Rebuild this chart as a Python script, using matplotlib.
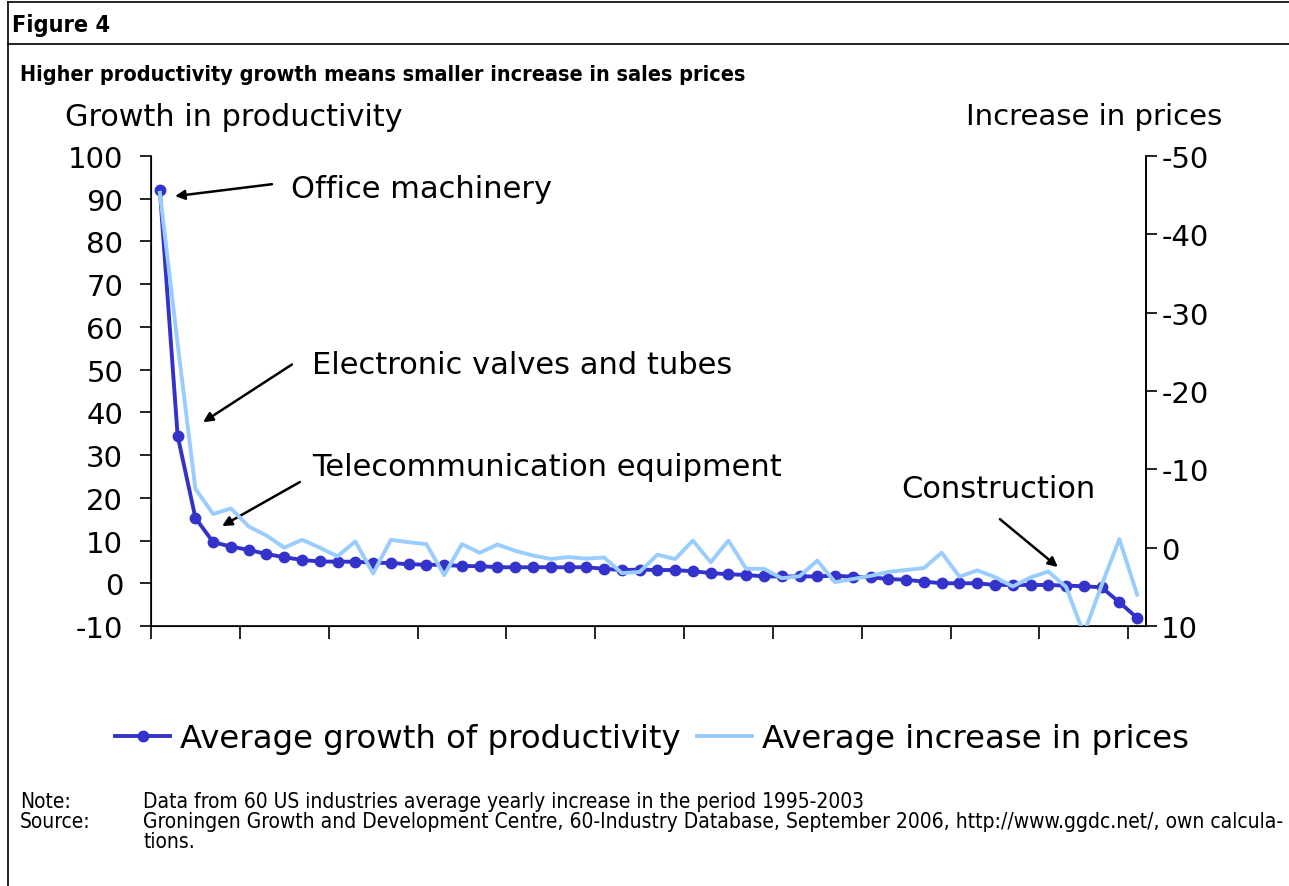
import matplotlib
matplotlib.use("Agg")
import matplotlib.pyplot as plt
import numpy as np

# Data: 56 industries sorted by productivity growth
productivity = [92.0, 34.5, 15.3, 9.6, 8.6, 7.8, 6.85, 6.1, 5.45, 5.1,
                5.05, 5.05, 4.8, 4.75, 4.45, 4.35, 4.3, 4.05, 4.0, 3.75,
                3.75, 3.75, 3.75, 3.75, 3.75, 3.4, 3.1, 3.2, 3.1, 3.1,
                2.8, 2.4, 2.1, 1.95, 1.6, 1.6, 1.6, 1.6, 1.8, 1.5,
                1.4, 1.0, 0.8, 0.4, 0.0, 0.0, 0.0, -0.4, -0.4, -0.4,
                -0.4, -0.55, -0.7, -0.95, -4.45, -8.1]
prices = [-45.3, -26.0, -7.5, -4.3, -5.0, -2.7, -1.55, 0.0, -1.0, 0.0,
          1.1, -0.8, 3.3, -1.0, -0.7, -0.45, 3.5, -0.45, 0.65, -0.4,
          0.4, 1.0, 1.45, 1.2, 1.4, 1.25, 3.25, 3.1, 0.9, 1.45,
          -0.9, 1.85, -0.9, 2.7, 2.7, 3.9, 3.65, 1.65, 4.4, 4.0,
          3.6, 3.1, 2.85, 2.6, 0.65, 3.7, 2.9, 3.75, 4.95, 3.8,
          3.05, 5.0, 11.0, 4.8, -1.1, 6.0]

left_ticks = list(range(-10, 101, 10))
right_ticks = list(range(-50, 11, 10))

dark = "#3333CC"
light = "#99CCFF"

plt.rcParams["font.family"] = ["DejaVu Sans"]
plt.rcParams["axes.unicode_minus"] = False

W, H = 1289, 887
fig = plt.figure(figsize=(W / 100, H / 100), dpi=100)
ax = fig.add_axes([151 / W, 1 - 627 / H, (1146 - 151) / W, (627 - 157) / H])

x = np.arange(len(productivity))
ln1, = ax.plot(x, productivity, color=dark, lw=2.8, marker="o", ms=7.5,
               label="Average growth of productivity", zorder=3)
ax.set_xlim(-0.5, len(productivity) - 0.5)
ax.set_ylim(-10, 100)
ax.set_yticks(left_ticks)
ax.set_xticks(np.arange(-0.5, len(productivity) - 0.5, 5))
ax.set_xticklabels([])
ax.tick_params(axis="y", labelsize=21, length=8, width=1.2, direction="out", pad=12)
ax.tick_params(axis="x", length=9, width=1.2, direction="out")
ax.spines["top"].set_visible(False)
for s in ["left", "bottom", "right"]:
    ax.spines[s].set_linewidth(1.2)

ax2 = ax.twinx()
ln2, = ax2.plot(x, prices, color=light, lw=2.8, label="Average increase in prices", zorder=2)
ax2.set_ylim(10, -50)
ax2.set_yticks(right_ticks)
ax2.tick_params(axis="y", labelsize=21, length=8, width=1.2, direction="out", pad=3)
ax2.spines["top"].set_visible(False)
ax2.spines["right"].set_linewidth(1.2)

# axis titles
fig.text(65 / W, 1 - 117 / H, "Growth in productivity", fontsize=21.8, va="center", ha="left")
fig.text(1222 / W, 1 - 117 / H, "Increase in prices", fontsize=21, va="center", ha="right")

# annotations
labels = [("Office machinery", (7.38, 92.4), (0.85, 90.6), (6.31, 93.4)),
          ("Electronic valves and tubes", (8.56, 51.3), (2.43, 37.7), (7.43, 51.2)),
          ("Telecommunication equipment", (8.56, 27.4), (3.5, 13.4), (7.88, 23.7)),
          ("Construction", (41.7, 22.1), (50.54, 3.8), (47.28, 15.0))]
for txt, tpos, tip, tail in labels:
    ax.text(tpos[0], tpos[1], txt, fontsize=22, ha="left", va="center")
    ax.annotate("", xy=tip, xytext=tail,
                arrowprops=dict(arrowstyle="-|>", color="black", lw=1.8,
                                mutation_scale=14, shrinkA=0, shrinkB=0))

fig.legend(handles=[ln1, ln2], loc="center", bbox_to_anchor=(652 / W, 1 - 740 / H),
           ncol=2, frameon=False, fontsize=23.3, handlelength=1.7,
           columnspacing=0.5, handletextpad=0.3)

# header and notes
fig.text(12 / W, 1 - 32 / H, "Figure 4", fontsize=16.8, fontweight="bold",
         stretch="condensed", ha="left", va="baseline")
fig.text(20 / W, 1 - 75 / H, "Higher productivity growth means smaller increase in sales prices",
         fontsize=15.5, fontweight="bold", stretch="condensed", ha="left", va="center")

note_kw = dict(fontsize=15, stretch="condensed", ha="left", va="center")
fig.text(20 / W, 1 - 802 / H, "Note:", **note_kw)
fig.text(143 / W, 1 - 802 / H,
         "Data from 60 US industries average yearly increase in the period 1995-2003", **note_kw)
fig.text(20 / W, 1 - 822 / H, "Source:", **note_kw)
fig.text(143 / W, 1 - 822 / H,
         "Groningen Growth and Development Centre, 60-Industry Database, September 2006, "
         "http://www.ggdc.net/, own calcula-", **note_kw)
fig.text(143 / W, 1 - 842 / H, "tions.", **note_kw)

# frame lines
fig.add_artist(plt.Line2D([8 / W, 8 / W], [0, 1 - 3 / H], color="black", lw=1.2))
fig.add_artist(plt.Line2D([8 / W, 1], [1 - 3 / H, 1 - 3 / H], color="black", lw=1.2))
fig.add_artist(plt.Line2D([8 / W, 1], [1 - 45 / H, 1 - 45 / H], color="black", lw=1.2))

fig.savefig("out.png", dpi=100)
